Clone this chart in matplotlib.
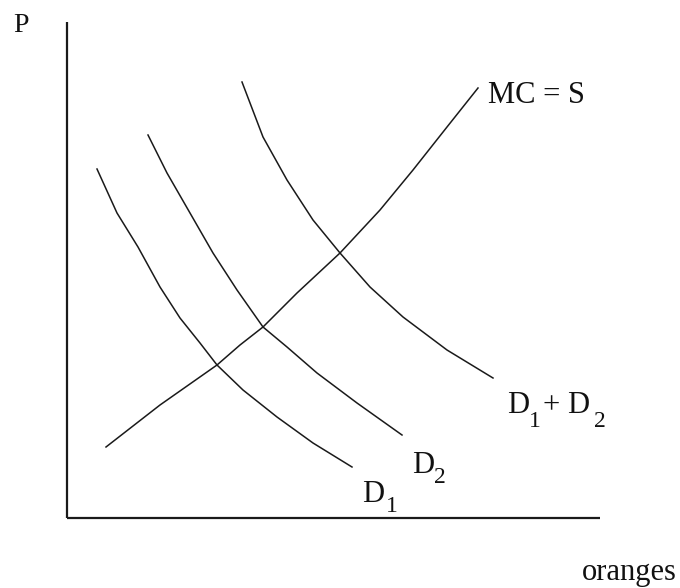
import matplotlib
matplotlib.use("Agg")
import matplotlib.pyplot as plt

# quantity / price points (origin = axis corner)
d1_q = [30, 50, 71, 93, 113, 133, 150, 176, 210, 246, 285]
d1_p = [349, 305, 271, 231, 200, 175, 153, 128, 101, 75, 51]

d2_q = [81, 100, 123, 146, 170, 196, 220, 250, 290, 335]
d2_p = [383, 345, 305, 265, 228, 191, 171, 145, 115, 83]

dsum_q = [175, 196, 220, 246, 273, 303, 336, 380, 426]
dsum_p = [436, 381, 338, 298, 265, 231, 201, 168, 140]

mc_q = [39, 93, 150, 173, 196, 230, 273, 313, 346, 380, 411]
mc_p = [71, 113, 153, 173, 191, 225, 265, 308, 348, 391, 430]

x_end = 533
y_end = 496

plt.rcParams['font.family'] = ['Liberation Serif', 'DejaVu Serif']

fig = plt.figure(figsize=(6.8, 5.88), dpi=100)
ax = fig.add_axes([0, 0, 1, 1])
ax.set_xlim(-67, 613)
ax.set_ylim(-70, 518)
ax.axis('off')

lc = '#1a1a1a'
lw = 1.1
# axes
ax.plot([0, 0], [0, y_end], color=lc, lw=1.6, solid_capstyle='butt')
ax.plot([0, x_end], [0, 0], color=lc, lw=1.6, solid_capstyle='butt')

for q, p in [(d1_q, d1_p), (d2_q, d2_p), (dsum_q, dsum_p), (mc_q, mc_p)]:
    ax.plot(q, p, color=lc, lw=lw)

big = 22
sub = 17
kw = dict(ha='left', va='baseline', color='#111111')
ax.text(-54, 486, "P", fontsize=20, **kw)
ax.text(421, 415, "MC = S", fontsize=big, **kw)

ax.text(440, 105, "D", fontsize=big, **kw)
ax.text(462, 91, "1", fontsize=sub, **kw)
ax.text(476, 105, "+", fontsize=big, **kw)
ax.text(500, 105, "D", fontsize=big, **kw)
ax.text(527, 91, "2", fontsize=sub, **kw)

ax.text(345, 45, "D", fontsize=big, **kw)
ax.text(367, 35, "2", fontsize=sub, **kw)

ax.text(295, 16, "D", fontsize=big, **kw)
ax.text(319, 6, "1", fontsize=sub, **kw)

ax.text(515, -62, "oranges", fontsize=big, **kw)

fig.savefig("out.png", dpi=100)
